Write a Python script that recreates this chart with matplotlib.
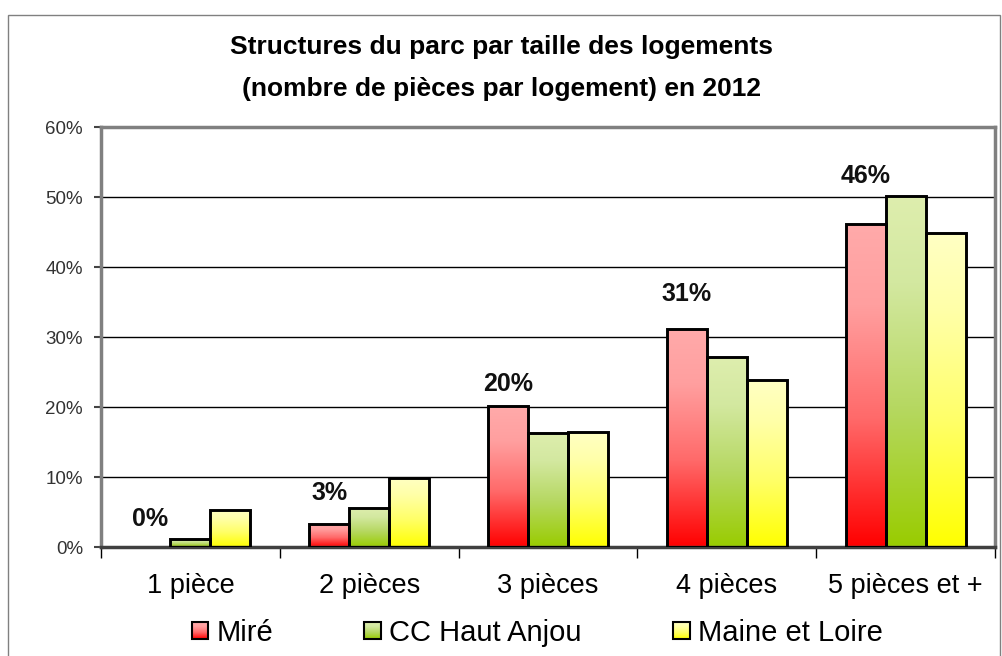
"""Structure du parc par taille des logements, 2012."""
import matplotlib
matplotlib.use("Agg")
import matplotlib.pyplot as plt
import numpy as np
from matplotlib.colors import LinearSegmentedColormap
from matplotlib.patches import Rectangle
from matplotlib.legend_handler import HandlerBase
from matplotlib.image import BboxImage
from matplotlib.transforms import Bbox, TransformedBbox

categories = ["1 pièce", "2 pièces", "3 pièces", "4 pièces", "5 pièces et +"]
series_names = ["Miré", "CC Haut Anjou", "Maine et Loire"]
mire = [0.0, 3.3, 20.1, 31.1, 46.1]
cc_haut_anjou = [1.1, 5.6, 16.3, 27.1, 50.2]
maine_et_loire = [5.3, 9.9, 16.4, 23.9, 44.9]
yticks = [0, 10, 20, 30, 40, 50, 60]

FONT = ["Liberation Sans", "DejaVu Sans"]

# bottom -> top gradients, like the Excel fills
cmaps = [
    LinearSegmentedColormap.from_list(
        "mire", [(0, "#ff0000"), (0.4, "#ff6a6a"), (0.75, "#ff9f9f"), (1, "#ffaaaa")]),
    LinearSegmentedColormap.from_list(
        "cc", [(0, "#99cc00"), (0.4, "#b6d862"), (0.75, "#d3e8a0"), (1, "#deeeae")]),
    LinearSegmentedColormap.from_list(
        "ml", [(0, "#ffff00"), (0.4, "#ffff68"), (0.75, "#ffffa8"), (1, "#ffffc4")]),
]
grad = np.linspace(0, 1, 256).reshape(-1, 1)


class GradientHandler(HandlerBase):
    def __init__(self, cmap):
        super().__init__()
        self.cmap = cmap

    def create_artists(self, legend, orig_handle, xdescent, ydescent,
                       width, height, fontsize, trans):
        s = height
        x0 = -xdescent + width - s
        y0 = -ydescent + (height - s) / 2
        bbox = TransformedBbox(Bbox.from_bounds(x0, y0, s, s), trans)
        img = BboxImage(bbox, cmap=self.cmap, origin="lower", interpolation="bilinear")
        img.set_data(grad)
        rect = Rectangle((x0, y0), s, s, facecolor="none", edgecolor="black",
                         lw=1.5, transform=trans)
        return [img, rect]


fig = plt.figure(figsize=(10.02, 6.56), dpi=100)
ax = fig.add_axes([101 / 1002, 109 / 656, 894 / 1002, 420 / 656])

x = np.arange(len(categories))
width = 0.224
all_series = [mire, cc_haut_anjou, maine_et_loire]
for i, (vals, cmap) in enumerate(zip(all_series, cmaps)):
    for xc, v in zip(x + (i - 1) * width, vals):
        if v <= 0:
            continue
        bar = ax.bar(xc, v, width, facecolor="none", edgecolor="black",
                     linewidth=2.1, zorder=3)[0]
        im = ax.imshow(grad, cmap=cmap, origin="lower", aspect="auto",
                       extent=[xc - width / 2, xc + width / 2, 0, v],
                       interpolation="bilinear", zorder=2)
        im.set_clip_path(bar)

# data labels above Miré bars
label_offsets = [28, 31, 22, 35, 48]  # pixels above the bar top
for xc, v, off in zip(x - width, mire, label_offsets):
    ax.annotate(f"{v:.0f}%", (xc, v), xytext=(0, off * 0.72), textcoords="offset points",
                ha="center", va="center", fontsize=18, fontweight="bold",
                family=FONT, color="#111111", zorder=5)

ax.set_xlim(-0.5, len(categories) - 0.5)
ax.set_ylim(0, 60)
ax.set_yticks(yticks)
ax.set_yticklabels([f"{t}%" for t in yticks], family=FONT, fontsize=13.5, color="#333333")
ax.yaxis.grid(True, color="black", linewidth=1)
ax.set_axisbelow(True)
ax.tick_params(axis="y", length=5, width=1.5, color="#444444", pad=8)

ax.set_xticks(np.arange(len(categories) + 1) - 0.5)
ax.set_xticklabels([])
ax.set_xticks(x, minor=True)
ax.set_xticklabels(categories, minor=True, family=FONT, fontsize=19.5)
ax.tick_params(axis="x", which="major", length=8, width=1, color="black", direction="out")
ax.tick_params(axis="x", which="minor", length=0, pad=19)

for side in ["left", "right", "top"]:
    ax.spines[side].set_color("#808080")
    ax.spines[side].set_linewidth(2.5)
ax.spines["bottom"].set_color("#404040")
ax.spines["bottom"].set_linewidth(2.5)

fig.suptitle("Structures du parc par taille des logements\n(nombre de pièces par logement) en 2012",
             y=1 - 35 / 656, va="top", fontsize=19, fontweight="bold", family=FONT,
             linespacing=1.95)

handles = [Rectangle((0, 0), 1, 1) for _ in series_names]
fig.legend(handles, series_names, loc="center", bbox_to_anchor=(0.537, 0.035),
           ncol=3, frameon=False, prop={"family": FONT, "size": 21},
           handler_map={h: GradientHandler(c) for h, c in zip(handles, cmaps)},
           handlelength=0.5, handleheight=0.5, handletextpad=0.28, columnspacing=3.2)

# outer chart frame
fig.patches.append(Rectangle((8 / 1002, -0.05), 992 / 1002, 1.05 - 15 / 656,
                             transform=fig.transFigure, fill=False,
                             edgecolor="#808080", linewidth=1))

fig.savefig("out.png", dpi=100)
